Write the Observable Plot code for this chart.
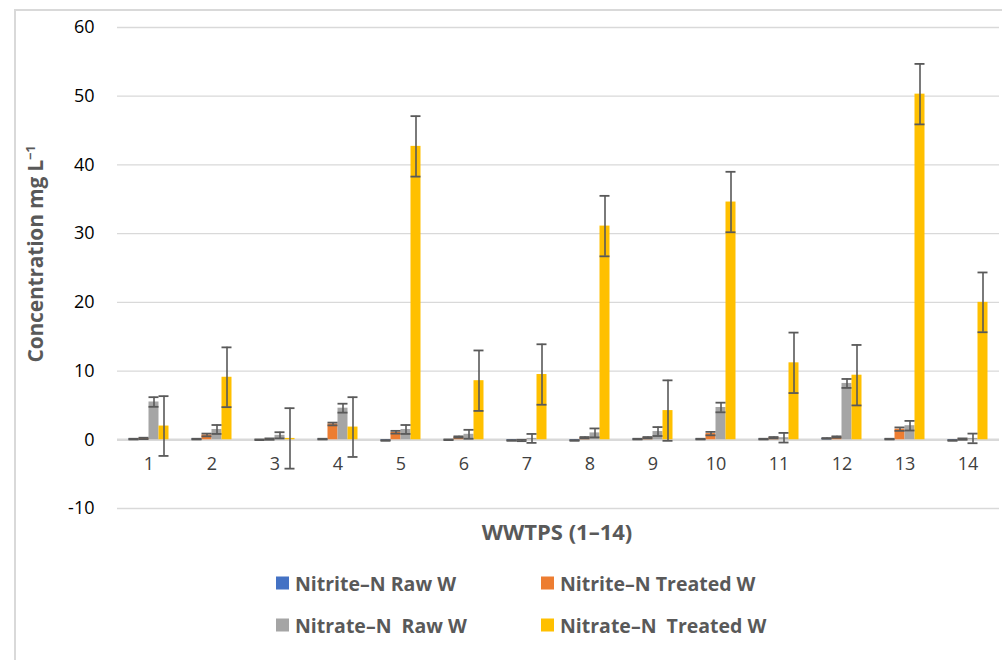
<!DOCTYPE html>
<html>
<head>
<meta charset="utf-8">
<script src="https://cdn.jsdelivr.net/npm/d3@7"></script>
<script src="https://cdn.jsdelivr.net/npm/@observablehq/plot@0.6"></script>
<style>
  html, body { margin: 0; padding: 0; background: #fff; }
  body { font-family: "Open Sans", Lato, sans-serif; }
  #wrap { position: relative; width: 1002px; height: 660px; overflow: hidden; }
  #frame { position: absolute; left: 14px; top: 9px; width: 1000px; height: 660px;
           border-left: 2px solid #d9d9d9; border-top: 2px solid #d9d9d9; box-sizing: border-box; }
  #chart { position: absolute; left: 0; top: 0; }
  .ytitle { position: absolute; left: 35px; top: 254px; transform: translate(-50%, -50%) rotate(-90deg);
            font-weight: 700; font-size: 21px; color: #595959; white-space: nowrap; letter-spacing: -0.2px; }
  .xtitle { position: absolute; left: 557px; top: 531px; transform: translate(-50%, -50%);
            font-weight: 700; font-size: 22px; color: #595959; white-space: nowrap; }
  .leg { position: absolute; display: flex; align-items: center; font-weight: 700; font-size: 19.5px;
         color: #595959; white-space: pre; transform: translateY(-50%); }
  .leg i { display: inline-block; width: 13px; height: 13px; margin-right: 6px; }
</style>
</head>
<body>
<div id="wrap">
  <div id="frame"></div>
  <div id="chart"></div>
  <div class="ytitle">Concentration mg L<sup style="font-size:13px">−1</sup></div>
  <div class="xtitle">WWTPS (1–14)</div>
  <div id="legend"></div>
</div>
<script>
// ---- Data ----
const groups = [1, 2, 3, 4, 5, 6, 7, 8, 9, 10, 11, 12, 13, 14];
const seriesNames = ["Nitrite–N Raw W", "Nitrite–N Treated W", "Nitrate–N  Raw W", "Nitrate–N  Treated W"];
const seriesColors = ["#4472C4", "#ED7D31", "#A5A5A5", "#FFC000"];

const nitriteRaw        = [0.1, 0.1, 0.0, 0.1, -0.1, 0.0, -0.1, -0.1, 0.1, 0.1, 0.1, 0.2, 0.1, -0.1];
const nitriteRawErr     = [0.05, 0.05, 0.05, 0.05, 0.05, 0.05, 0.05, 0.05, 0.05, 0.05, 0.05, 0.05, 0.05, 0.05];
const nitriteTreated    = [0.2, 0.7, 0.1, 2.3, 1.1, 0.4, -0.1, 0.3, 0.3, 0.9, 0.3, 0.4, 1.55, 0.1];
const nitriteTreatedErr = [0.1, 0.2, 0.1, 0.2, 0.2, 0.1, 0.1, 0.1, 0.1, 0.25, 0.1, 0.1, 0.25, 0.1];
const nitrateRaw        = [5.5, 1.5, 0.65, 4.6, 1.5, 0.8, 0.2, 1.0, 1.2, 4.7, 0.3, 8.2, 2.05, 0.2];
const nitrateRawErr     = [0.7, 0.65, 0.45, 0.65, 0.65, 0.65, 0.65, 0.65, 0.65, 0.7, 0.7, 0.65, 0.7, 0.7];
const nitrateTreated    = [2.0, 9.1, 0.2, 1.85, 42.7, 8.6, 9.5, 31.1, 4.25, 34.6, 11.2, 9.4, 50.3, 20.0];
const nitrateTreatedErr = [4.35, 4.35, 4.4, 4.35, 4.4, 4.4, 4.4, 4.4, 4.4, 4.4, 4.4, 4.4, 4.4, 4.35];

const yTicks = [-10, 0, 10, 20, 30, 40, 50, 60];

// ---- Build table ----
const valueArrays = [nitriteRaw, nitriteTreated, nitrateRaw, nitrateTreated];
const errArrays = [nitriteRawErr, nitriteTreatedErr, nitrateRawErr, nitrateTreatedErr];
const data = [];
groups.forEach((g, i) => {
  seriesNames.forEach((s, k) => {
    const v = valueArrays[k][i], e = errArrays[k][i];
    data.push({group: g, series: s, value: v, lo: v - e, hi: v + e});
  });
});

const errColor = "#595959";

const plot = Plot.plot({
  width: 1002,
  height: 545,
  marginTop: 27,
  marginBottom: 37,
  marginLeft: 111.5,
  marginRight: -2,
  style: {fontFamily: "'Open Sans', Lato, sans-serif", background: "transparent", overflow: "hidden"},
  fx: {domain: groups, padding: 0, axis: null},
  x: {domain: seriesNames, paddingInner: 0, paddingOuter: 1, axis: null},
  y: {domain: [-10, 60], ticks: yTicks, axis: null},
  color: {domain: seriesNames, range: seriesColors},
  marks: [
    Plot.gridY(yTicks, {stroke: "#d9d9d9", strokeOpacity: 1, strokeWidth: 1.3}),
    Plot.ruleY([0], {stroke: "#d9d9d9", strokeWidth: 2.5}),
    Plot.barY(data, {fx: "group", x: "series", y: "value", fill: "series"}),
    Plot.ruleX(data, {fx: "group", x: "series", y1: "lo", y2: "hi", stroke: errColor, strokeWidth: 1.6}),
    Plot.tickY(data, {fx: "group", x: "series", y: "lo", stroke: errColor, strokeWidth: 1.8}),
    Plot.tickY(data, {fx: "group", x: "series", y: "hi", stroke: errColor, strokeWidth: 1.8}),
    Plot.axisY(yTicks, {tickSize: 0, tickPadding: 23, fontSize: 18, fill: "#000", label: null,
                        tickFormat: d => String(d)}),
    Plot.text(groups, {fx: d => d, text: d => String(d), frameAnchor: "bottom", dy: -39,
                       fontSize: 18, fill: "#404040"})
  ]
});
document.getElementById("chart").appendChild(plot);

// ---- Legend ----
const legendPos = [
  {sq: 276, row: 583}, {sq: 541, row: 583},
  {sq: 276, row: 625}, {sq: 541, row: 625}
];
const leg = document.getElementById("legend");
seriesNames.forEach((s, k) => {
  const d = document.createElement("div");
  d.className = "leg";
  d.style.left = legendPos[k].sq + "px";
  d.style.top = legendPos[k].row + "px";
  const sw = document.createElement("i");
  sw.style.background = seriesColors[k];
  d.appendChild(sw);
  d.appendChild(document.createTextNode(s));
  leg.appendChild(d);
});
</script>
</body>
</html>
